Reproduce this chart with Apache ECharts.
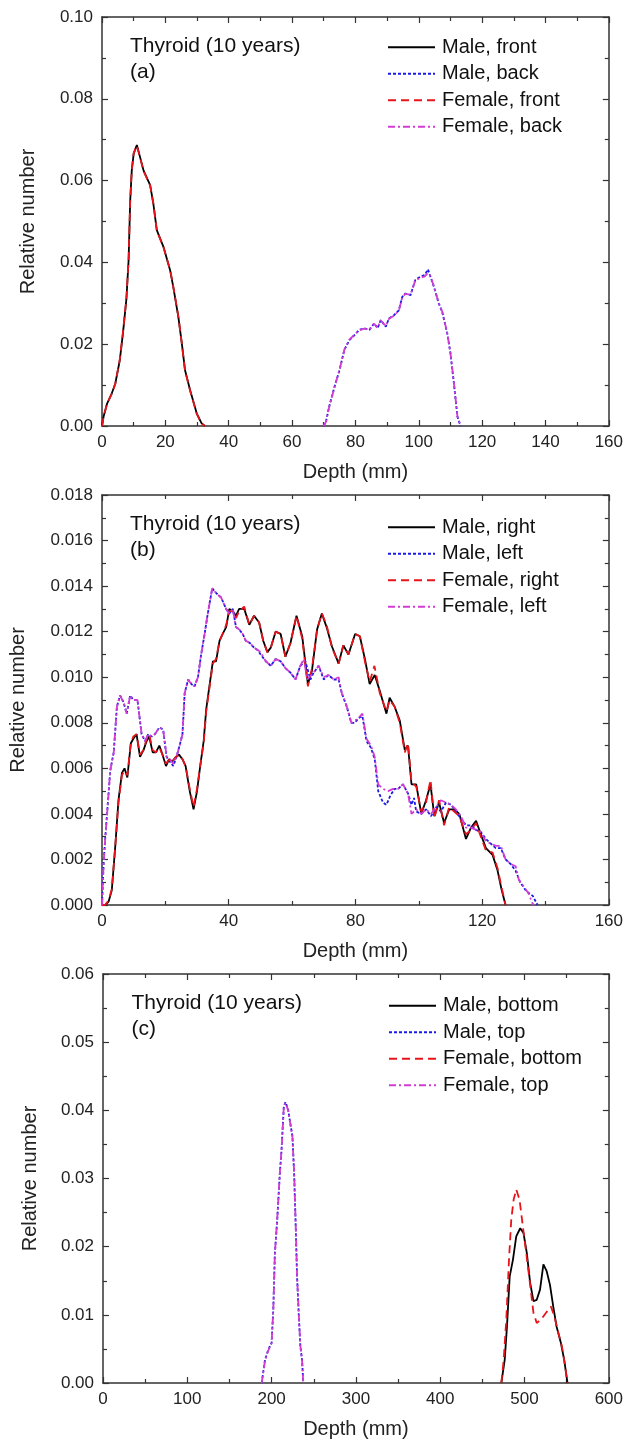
<!DOCTYPE html>
<html>
<head>
<meta charset="utf-8">
<script src="https://cdn.jsdelivr.net/npm/echarts@6/dist/echarts.min.js"></script>
<style>
html,body{margin:0;padding:0;background:#fff;}
#chart{width:626px;height:1444px;}
</style>
</head>
<body>
<div id="chart"></div>
<script>
// ---------- Panel (a): front/back ----------
const aNames = ['Male, front', 'Male, back', 'Female, front', 'Female, back'];
const aMaleFront = [[0,0],[0.5,0.0023],[1.6,0.0055],[3.1,0.008],[4.2,0.0104],[5.6,0.016],[6.6,0.0226],[7.7,0.031],[8.4,0.0406],[8.9,0.055],[9.4,0.0625],[10.0,0.0666],[11.0,0.0687],[12.0,0.0658],[13.1,0.0625],[15.2,0.0589],[16.2,0.0544],[17.3,0.0479],[19.4,0.0438],[21.5,0.0381],[22.5,0.034],[24.1,0.0267],[25.2,0.0202],[26.2,0.0137],[27.8,0.0088],[29.9,0.0031],[31.4,0.0007],[32.5,0]];
const aFemaleFront = [[0,0],[0.5,0.0022],[1.6,0.0054],[3.1,0.0079],[4.2,0.0103],[5.6,0.0162],[6.6,0.0228],[7.7,0.0312],[8.4,0.0408],[8.9,0.0552],[9.4,0.0626],[10.0,0.0667],[11.0,0.0686],[12.0,0.0657],[13.1,0.0624],[15.2,0.0588],[16.2,0.0545],[17.3,0.0478],[19.4,0.0437],[21.5,0.0382],[22.5,0.0341],[24.1,0.0268],[25.2,0.0201],[26.2,0.0136],[27.8,0.0087],[29.9,0.003],[31.4,0.0006],[32.5,0]];
const aMaleBack = [[69.9,0],[70.7,0.001],[71.7,0.0047],[73.4,0.0096],[75.0,0.0137],[76.5,0.0186],[78.1,0.021],[79.7,0.0222],[81.2,0.0235],[82.8,0.0239],[84.4,0.0235],[85.9,0.0251],[87.0,0.0239],[88.0,0.0259],[89.6,0.0243],[90.6,0.0263],[92.2,0.0271],[93.7,0.0283],[94.8,0.0316],[95.8,0.0324],[97.4,0.032],[98.9,0.0357],[100.5,0.0365],[101.9,0.0369],[102.9,0.0383],[103.7,0.0365],[104.8,0.034],[106.3,0.03],[107.4,0.0279],[109.0,0.0226],[110.0,0.0178],[111.1,0.0104],[112.2,0.0023],[113.2,0]];
const aFemaleBack = [[69.9,0],[70.7,0.001],[71.7,0.0046],[73.4,0.0095],[75.0,0.0138],[76.5,0.0187],[78.1,0.0211],[79.7,0.0223],[81.2,0.0234],[82.8,0.0238],[84.4,0.0236],[85.9,0.025],[87.0,0.024],[88.0,0.0258],[89.6,0.0244],[90.6,0.0262],[92.2,0.027],[93.7,0.0282],[94.8,0.0315],[95.8,0.0323],[97.4,0.0321],[98.9,0.0356],[100.5,0.0362],[101.9,0.0366],[102.9,0.0374],[103.7,0.0366],[104.8,0.0341],[106.3,0.0301],[107.4,0.028],[109.0,0.0227],[110.0,0.0179],[111.1,0.0105],[112.2,0.0024],[113.2,0]];

// ---------- Panel (b): right/left ----------
const bNames = ['Male, right', 'Male, left', 'Female, right', 'Female, left'];
const bMaleRight = [[0,0],[1.0,0],[2.1,0.00015],[3.1,0.00066],[4.2,0.0026],[5.2,0.0046],[6.3,0.0058],[7.1,0.006],[8.0,0.0056],[9.1,0.0071],[9.9,0.0073],[10.9,0.0075],[12.0,0.0065],[13.1,0.0068],[14.1,0.0072],[14.9,0.0074],[16.0,0.0067],[17.0,0.0067],[18.1,0.007],[19.1,0.0066],[20.2,0.0061],[21.2,0.0064],[22.2,0.0063],[23.3,0.0065],[24.3,0.0066],[25.4,0.0064],[26.4,0.0061],[27.7,0.005],[28.9,0.0042],[30.0,0.005],[31.0,0.0061],[32.1,0.0072],[32.9,0.0086],[34.0,0.0097],[35.0,0.0107],[36.0,0.0107],[37.1,0.0116],[38.1,0.0119],[39.2,0.0122],[40.2,0.013],[41.3,0.0129],[42.3,0.0127],[43.3,0.013],[44.9,0.013],[46.5,0.0123],[48.0,0.0127],[49.6,0.0124],[50.9,0.0116],[52.2,0.0111],[53.3,0.0113],[54.8,0.012],[56.4,0.0119],[57.9,0.0109],[59.5,0.0115],[61.4,0.0127],[63.2,0.0118],[65.0,0.0097],[66.3,0.0103],[67.9,0.0121],[69.4,0.0128],[70.9,0.0122],[72.6,0.01135],[74.7,0.0106],[76.2,0.0114],[77.8,0.0110],[79.9,0.0119],[81.4,0.0118],[83.0,0.0108],[84.5,0.0097],[86.1,0.0101],[87.7,0.0094],[89.8,0.0084],[90.8,0.0091],[92.4,0.0087],[94.0,0.0081],[95.6,0.0068],[96.6,0.0070],[97.7,0.0053],[99.2,0.0053],[100.8,0.0040],[102.3,0.0046],[103.7,0.0053],[104.9,0.0039],[106.4,0.0045],[108.0,0.0036],[109.6,0.0042],[111.2,0.0042],[112.8,0.0040],[114.9,0.0029],[116.5,0.0034],[118.1,0.0037],[119.6,0.0031],[121.2,0.0025],[123.3,0.0022],[124.9,0.0015],[126.1,0.0007],[127.4,0]];
const bFemaleRight = [[0,0],[1.0,0],[2.1,0.0002],[3.1,0.0007],[4.2,0.0026],[5.2,0.0045],[6.3,0.0057],[7.1,0.0059],[8.0,0.0057],[9.1,0.0071],[9.9,0.0074],[10.9,0.0075],[12.0,0.0066],[13.1,0.0068],[14.1,0.0073],[14.9,0.0075],[16.0,0.0068],[17.0,0.0067],[18.1,0.0069],[19.1,0.0066],[20.2,0.0062],[21.2,0.0064],[22.2,0.0063],[23.3,0.0065],[24.3,0.0066],[25.4,0.0064],[26.4,0.0061],[27.7,0.0051],[28.9,0.0043],[30.0,0.0051],[31.0,0.0061],[32.1,0.0071],[32.9,0.0085],[34.0,0.0096],[35.0,0.0106],[36.0,0.0108],[37.1,0.0116],[38.1,0.0119],[39.2,0.0123],[40.2,0.0129],[41.3,0.0129],[42.3,0.0126],[43.3,0.0129],[44.9,0.0131],[46.5,0.0123],[48.0,0.0127],[49.6,0.0124],[50.9,0.0116],[52.2,0.0111],[53.3,0.0113],[54.8,0.012],[56.4,0.0119],[57.9,0.0109],[59.5,0.0115],[61.4,0.0127],[63.2,0.0117],[65.0,0.0096],[66.3,0.0104],[67.9,0.0121],[69.4,0.0128],[70.9,0.0123],[72.6,0.0113],[74.7,0.0106],[76.2,0.0114],[77.8,0.0110],[79.9,0.0119],[81.4,0.0118],[83.0,0.0107],[84.5,0.0098],[86.0,0.0105],[87.7,0.0093],[89.8,0.0085],[90.8,0.0090],[92.4,0.0087],[94.0,0.0080],[95.6,0.0067],[96.6,0.0071],[97.7,0.0054],[99.2,0.0052],[100.8,0.0041],[102.3,0.0045],[103.7,0.0055],[104.9,0.0038],[106.4,0.0046],[108.0,0.0035],[109.6,0.0043],[111.2,0.0041],[112.8,0.0039],[114.9,0.0031],[116.5,0.0033],[118.1,0.0036],[119.6,0.0030],[121.2,0.0024],[123.3,0.0023],[124.9,0.0016],[126.1,0.0008],[127.4,0]];
const bMaleLeft = [[0,0],[0.5,0.0018],[1.0,0.0029],[1.6,0.004],[2.6,0.0059],[3.7,0.0067],[4.7,0.0087],[5.7,0.0092],[6.8,0.0089],[7.8,0.0084],[8.9,0.0092],[9.9,0.009],[11.2,0.009],[12.5,0.0075],[13.6,0.0072],[14.6,0.0075],[15.7,0.0074],[16.7,0.0075],[18.1,0.0078],[19.3,0.0077],[20.4,0.0065],[21.4,0.0063],[22.5,0.0061],[23.5,0.0065],[24.5,0.007],[25.4,0.0075],[26.1,0.0093],[27.2,0.0099],[28.2,0.0097],[29.2,0.0096],[30.3,0.01],[31.3,0.011],[32.4,0.0119],[33.4,0.0128],[34.8,0.0139],[36.0,0.0137],[37.6,0.0135],[39.2,0.013],[40.2,0.0128],[41.3,0.013],[42.3,0.0122],[43.3,0.0121],[44.4,0.0119],[45.4,0.0116],[46.7,0.0115],[48.0,0.0113],[49.1,0.0112],[50.1,0.011],[51.7,0.0107],[53.3,0.0105],[54.8,0.0108],[56.4,0.0107],[57.9,0.0104],[59.5,0.0102],[61.1,0.0099],[62.6,0.0105],[64.2,0.0107],[65.8,0.0099],[66.8,0.0102],[68.4,0.0105],[70.0,0.0099],[71.5,0.0101],[73.1,0.0099],[74.7,0.0099],[75.7,0.0093],[77.3,0.0087],[78.7,0.0080],[79.9,0.0080],[80.9,0.0082],[82.2,0.0083],[83.5,0.0072],[84.9,0.0069],[86.1,0.0064],[87.2,0.0050],[88.7,0.0045],[89.8,0.0044],[91.0,0.0048],[92.4,0.0051],[93.5,0.0051],[95.0,0.0053],[96.6,0.0049],[97.7,0.0044],[98.5,0.0047],[99.2,0.0041],[100.8,0.0040],[102.3,0.0042],[103.9,0.0039],[105.5,0.0043],[107.0,0.0041],[108.6,0.0045],[110.2,0.0044],[111.7,0.0041],[113.3,0.0038],[114.9,0.0035],[116.5,0.0035],[118.1,0.0033],[119.6,0.0032],[121.2,0.0029],[122.7,0.0027],[124.3,0.0025],[125.9,0.0025],[127.4,0.0020],[129.0,0.0018],[130.6,0.0015],[132.0,0.0010],[134.0,0.0006],[136.0,0.0004],[137.5,0]];
const bFemaleLeft = [[0,0],[0.5,0.0018],[1.0,0.0029],[1.6,0.004],[2.6,0.0059],[3.7,0.0067],[4.7,0.0087],[5.7,0.0092],[6.8,0.0089],[7.8,0.0084],[8.9,0.0092],[9.9,0.009],[11.2,0.009],[12.5,0.0075],[13.6,0.0072],[14.6,0.0075],[15.7,0.0074],[16.7,0.0075],[18.1,0.0078],[19.3,0.0077],[20.4,0.0065],[21.4,0.0064],[22.5,0.0062],[23.5,0.0065],[24.5,0.007],[25.4,0.0075],[26.1,0.0093],[27.2,0.0099],[28.2,0.0097],[29.2,0.0096],[30.3,0.01],[31.3,0.011],[32.4,0.0119],[33.4,0.0128],[34.8,0.0139],[36.0,0.0137],[37.6,0.0135],[39.2,0.013],[40.2,0.0128],[41.3,0.013],[42.3,0.0122],[43.3,0.0121],[44.4,0.0119],[45.4,0.0116],[46.7,0.0115],[48.0,0.0113],[49.1,0.0112],[50.1,0.0111],[51.7,0.0107],[53.3,0.0105],[54.8,0.0108],[56.4,0.0107],[57.9,0.0104],[59.5,0.0102],[61.1,0.0099],[62.6,0.0105],[63.7,0.0108],[64.8,0.0099],[66.8,0.0102],[68.4,0.0105],[70.0,0.0100],[71.5,0.0101],[73.1,0.0099],[74.7,0.0100],[75.7,0.0093],[77.3,0.0087],[78.7,0.0080],[79.9,0.0081],[80.9,0.0082],[82.2,0.0084],[83.5,0.0073],[84.9,0.0070],[86.1,0.0065],[87.2,0.0053],[88.7,0.0051],[90.3,0.0050],[91.9,0.0051],[93.5,0.0051],[95.0,0.0053],[96.6,0.0049],[97.7,0.0040],[99.2,0.0042],[100.8,0.0040],[102.3,0.0042],[103.9,0.0040],[105.5,0.0043],[107.0,0.0046],[108.6,0.0045],[110.2,0.0044],[111.7,0.0042],[113.3,0.0039],[114.9,0.0034],[116.5,0.0034],[118.1,0.0033],[119.6,0.0032],[121.2,0.0028],[122.7,0.0027],[124.3,0.0026],[125.9,0.0026],[127.4,0.0020],[129.0,0.0018],[130.6,0.0017],[131.6,0.0011],[133.2,0.0008],[134.7,0.0005],[135.8,0.0001],[136.3,0]];

// ---------- Panel (c): bottom/top ----------
const cNames = ['Male, bottom', 'Male, top', 'Female, bottom', 'Female, top'];
const cMaleBottom = [[472.5,0],[476.5,0.0034],[479.2,0.0083],[482.4,0.0156],[486.3,0.0181],[490.2,0.0215],[494.9,0.0227],[498.8,0.022],[502.7,0.0191],[506.7,0.0147],[510.6,0.012],[514.5,0.0122],[518.4,0.0137],[522.4,0.0174],[526.3,0.0164],[530.2,0.0144],[534.1,0.0112],[538.0,0.0083],[543.1,0.0059],[547.1,0.0034],[549.8,0.001],[551.0,0]];
const cFemaleBottom = [[472.5,0],[475.3,0.0034],[478.4,0.0093],[481.6,0.0181],[484.3,0.024],[487.1,0.0269],[490.2,0.0284],[494.1,0.0269],[498.0,0.023],[502.0,0.0191],[505.9,0.0152],[510.6,0.0103],[514.5,0.0088],[519.6,0.0093],[525.5,0.0103],[531.4,0.0112],[535.3,0.0098],[539.2,0.0078],[544.3,0.0054],[548.2,0.0024],[551.0,0]];
const cMaleTop = [[188.2,0],[192.2,0.0034],[196.1,0.0049],[200.0,0.0059],[202.0,0.0108],[203.9,0.0191],[206.7,0.024],[209.8,0.0308],[211.8,0.0342],[214.5,0.0406],[216.5,0.0412],[219.6,0.0401],[222.7,0.0377],[224.7,0.0362],[226.7,0.0308],[228.6,0.023],[230.2,0.0156],[232.5,0.0093],[234.1,0.0054],[236.1,0.0034],[237.6,0]];
const cFemaleTop = [[188.2,0],[192.2,0.0033],[196.1,0.0048],[200.0,0.0058],[202.0,0.0107],[203.9,0.019],[206.7,0.0241],[209.8,0.0309],[211.8,0.0343],[214.5,0.0405],[216.5,0.0411],[219.6,0.04],[222.7,0.0376],[224.7,0.0361],[226.7,0.0309],[228.6,0.0231],[230.2,0.0157],[232.5,0.0094],[234.1,0.0055],[236.1,0.0033],[237.6,0]];

// ---------- Axis tick settings ----------
const xTicksA = {min: 0, max: 160, interval: 20};
const xTicksB = {min: 0, max: 160, interval: 40};
const xTicksC = {min: 0, max: 600, interval: 100};
const yTicksA = {min: 0, max: 0.10, interval: 0.02, decimals: 2};
const yTicksB = {min: 0, max: 0.018, interval: 0.002, decimals: 3};
const yTicksC = {min: 0, max: 0.06, interval: 0.01, decimals: 2};
const panelLabels = ['(a)', '(b)', '(c)'];
const annotation = 'Thyroid (10 years)';

const FONT = 'Liberation Sans, Arial, sans-serif';
const AXIS_COLOR = '#333';

const grids = [
  {left: 102, top: 17, width: 509, height: 409},
  {left: 102, top: 495, width: 510, height: 410},
  {left: 103, top: 974, width: 509, height: 409}
];

function xAxes(g, t) {
  const base = {
    gridIndex: g, type: 'value', min: t.min, max: t.max, interval: t.interval,
    axisLine: {show: true, onZero: false, lineStyle: {color: AXIS_COLOR, width: 1.5}},
    axisTick: {show: true, inside: true, length: 6, lineStyle: {color: AXIS_COLOR, width: 1.2}},
    minorTick: {show: true, splitNumber: 2, length: 4, lineStyle: {color: AXIS_COLOR, width: 1.2}},
    splitLine: {show: false}, minorSplitLine: {show: false}
  };
  return [
    Object.assign({}, base, {
      position: 'bottom',
      axisLabel: {fontSize: 17, color: '#222', fontFamily: FONT, margin: 8},
      name: 'Depth (mm)', nameLocation: 'middle', nameGap: 36,
      nameTextStyle: {fontSize: 20, color: '#222', fontFamily: FONT}
    }),
    Object.assign({}, base, {position: 'top', axisLabel: {show: false}})
  ];
}

function yAxes(g, t, nameGap) {
  const base = {
    gridIndex: g, type: 'value', min: t.min, max: t.max, interval: t.interval,
    axisLine: {show: true, onZero: false, lineStyle: {color: AXIS_COLOR, width: 1.5}},
    axisTick: {show: true, inside: true, length: 6, lineStyle: {color: AXIS_COLOR, width: 1.2}},
    minorTick: {show: true, splitNumber: 2, length: 4, lineStyle: {color: AXIS_COLOR, width: 1.2}},
    splitLine: {show: false}, minorSplitLine: {show: false}
  };
  return [
    Object.assign({}, base, {
      position: 'left',
      axisLabel: {fontSize: 17, color: '#222', fontFamily: FONT, margin: 9,
        formatter: v => v.toFixed(t.decimals)},
      name: 'Relative number', nameLocation: 'middle', nameGap: nameGap,
      nameTextStyle: {fontSize: 20, color: '#222', fontFamily: FONT}
    }),
    Object.assign({}, base, {position: 'right', axisLabel: {show: false}})
  ];
}

const styles = [
  {color: '#000000', type: 'solid', width: 1.8},
  {color: '#1a1ae6', type: [3, 2], width: 1.8},
  {color: '#e8141b', type: [8, 5], width: 1.8},
  {color: '#d23cd2', type: [7, 3, 2, 3], width: 1.8}
];

function mkSeries(names, datas, g) {
  return names.map((n, i) => ({
    name: n, type: 'line', xAxisIndex: 2 * g, yAxisIndex: 2 * g,
    data: datas[i], symbol: 'none', showSymbol: false, smooth: false,
    lineStyle: {color: styles[i].color, type: styles[i].type, width: styles[i].width},
    itemStyle: {color: styles[i].color},
    z: 2 + i,
    animation: false
  }));
}

const legendTops = [17 + 30.3 - 10, 495 + 32.3 - 10, 974 + 31.7 - 10];
const legendLefts = [387, 387, 388];

function mkLegend(names, i) {
  return {
    data: names, orient: 'vertical', left: legendLefts[i], top: legendTops[i],
    padding: 0, itemWidth: 47, itemHeight: 14, itemGap: 6.5,
    itemStyle: {opacity: 0},
    textStyle: {fontSize: 20, color: '#111', fontFamily: FONT, lineHeight: 20, padding: [0, 0, 0, 2]},
    selectedMode: false
  };
}

const annotLefts = [130, 130, 131.5];
const graphics = grids.map((g, i) => ({
  type: 'text', left: annotLefts[i], top: g.top + 16,
  style: {text: annotation + '\n' + panelLabels[i], font: '21px ' + FONT, fill: '#111', lineHeight: 26}
}));

const chart = echarts.init(document.getElementById('chart'), null, {renderer: 'canvas'});
chart.setOption({
  animation: false,
  backgroundColor: '#fff',
  grid: grids,
  xAxis: [].concat(xAxes(0, xTicksA), xAxes(1, xTicksB), xAxes(2, xTicksC)),
  yAxis: [].concat(yAxes(0, yTicksA, 64), yAxes(1, yTicksB, 74), yAxes(2, yTicksC, 63)),
  legend: [mkLegend(aNames, 0), mkLegend(bNames, 1), mkLegend(cNames, 2)],
  graphic: graphics,
  series: [].concat(
    mkSeries(aNames, [aMaleFront, aMaleBack, aFemaleFront, aFemaleBack], 0),
    mkSeries(bNames, [bMaleRight, bMaleLeft, bFemaleRight, bFemaleLeft], 1),
    mkSeries(cNames, [cMaleBottom, cMaleTop, cFemaleBottom, cFemaleTop], 2)
  )
});
</script>
</body>
</html>
